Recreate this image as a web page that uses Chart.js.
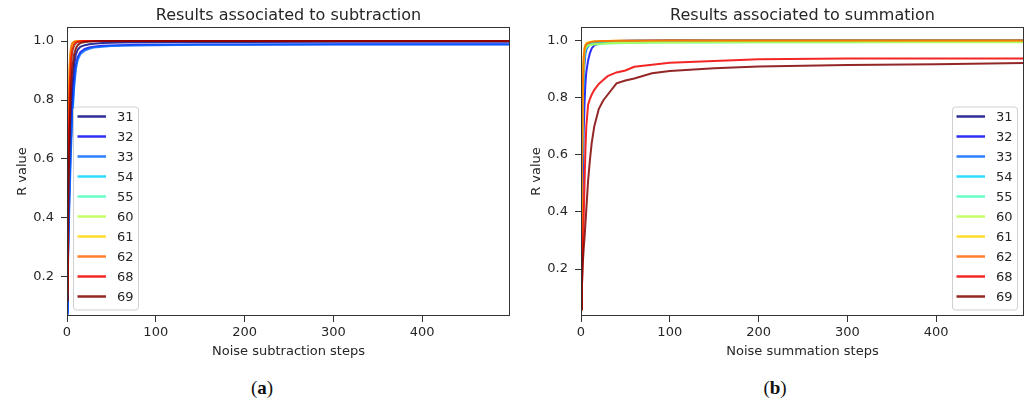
<!DOCTYPE html>
<html>
<head>
<meta charset="utf-8">
<script src="https://cdn.jsdelivr.net/npm/chart.js@4/dist/chart.umd.min.js"></script>
<style>
  html, body { margin: 0; padding: 0; background: #fff; }
  body { width: 1029px; height: 407px; position: relative; overflow: hidden; }
  .panel { position: absolute; top: 0; width: 515px; height: 370px; }
  .caption {
    position: absolute; top: 377px; transform: translateX(-50%);
    font-family: 'Liberation Serif', 'DejaVu Serif', serif; font-size: 19px; color: #111;
  }
</style>
</head>
<body>
<div class="panel" style="left:0"><canvas id="subChart"></canvas></div>
<div class="panel" style="left:514px"><canvas id="sumChart"></canvas></div>
<div class="caption" style="left:262px">(<b>a</b>)</div>
<div class="caption" style="left:775px">(<b>b</b>)</div>

<script>
// series names (legend order) and their colours
const seriesNames = ['31', '32', '33', '54', '55', '60', '61', '62', '68', '69'];
const seriesColors = [
  'rgba(0,0,128,0.82)', 'rgba(0,0,241,0.82)', 'rgba(0,99,255,0.82)', 'rgba(0,212,255,0.82)',
  'rgba(71,255,184,0.82)', 'rgba(184,255,71,0.82)', 'rgba(255,212,0,0.82)', 'rgba(255,99,0,0.82)',
  'rgba(241,0,0,0.85)', 'rgba(128,0,0,0.85)'
];

// noise steps where values were read
const steps = [0, 1, 2, 3, 4, 5, 6, 8, 10, 12, 15, 20, 25, 30, 40, 50, 60, 80, 100, 150, 200, 300, 400, 499];
const xTicks = [0, 100, 200, 300, 400];
const yTicks = [0.2, 0.4, 0.6, 0.8, 1.0];

// (a) subtraction
const sub31 = [0.10, 0.26, 0.42, 0.56, 0.68, 0.77, 0.84, 0.92, 0.955, 0.970, 0.980, 0.986, 0.989, 0.991, 0.993, 0.994, 0.995, 0.996, 0.996, 0.997, 0.997, 0.998, 0.998, 0.998];
const sub32 = [0.08, 0.25, 0.40, 0.52, 0.62, 0.70, 0.77, 0.86, 0.92, 0.945, 0.962, 0.973, 0.978, 0.981, 0.984, 0.985, 0.986, 0.987, 0.987, 0.988, 0.988, 0.989, 0.989, 0.989];
const sub33 = [0.07, 0.22, 0.36, 0.48, 0.58, 0.67, 0.74, 0.84, 0.905, 0.935, 0.955, 0.968, 0.974, 0.978, 0.981, 0.983, 0.984, 0.985, 0.986, 0.987, 0.987, 0.988, 0.988, 0.988];
const sub54 = [0.14, 0.42, 0.65, 0.80, 0.89, 0.94, 0.965, 0.985, 0.993, 0.996, 0.998, 0.999, 0.999, 1.000, 1.000, 1.000, 1.000, 1.000, 1.000, 1.000, 1.000, 1.000, 1.000, 1.000];
const sub55 = [0.15, 0.45, 0.68, 0.83, 0.91, 0.95, 0.972, 0.988, 0.995, 0.997, 0.998, 0.999, 0.999, 1.000, 1.000, 1.000, 1.000, 1.000, 1.000, 1.000, 1.000, 1.000, 1.000, 1.000];
const sub60 = [0.16, 0.48, 0.72, 0.86, 0.93, 0.96, 0.978, 0.991, 0.996, 0.998, 0.999, 0.999, 1.000, 1.000, 1.000, 1.000, 1.000, 1.000, 1.000, 1.000, 1.000, 1.000, 1.000, 1.000];
const sub61 = [0.20, 0.55, 0.79, 0.91, 0.96, 0.982, 0.991, 0.997, 0.999, 1.000, 1.000, 1.000, 1.000, 1.000, 1.000, 1.000, 1.000, 1.000, 1.000, 1.000, 1.000, 1.000, 1.000, 1.000];
const sub62 = [0.20, 0.56, 0.80, 0.92, 0.965, 0.985, 0.993, 0.998, 0.999, 1.000, 1.000, 1.000, 1.000, 1.000, 1.000, 1.000, 1.000, 1.000, 1.000, 1.000, 1.000, 1.000, 1.000, 1.000];
const sub68 = [0.15, 0.44, 0.66, 0.81, 0.90, 0.945, 0.968, 0.987, 0.994, 0.997, 0.999, 1.000, 1.000, 1.000, 1.000, 1.000, 1.000, 1.000, 1.000, 1.000, 1.000, 1.000, 1.000, 1.000];
const sub69 = [0.12, 0.34, 0.54, 0.69, 0.80, 0.87, 0.91, 0.955, 0.975, 0.986, 0.993, 0.997, 0.998, 0.999, 1.000, 1.000, 1.000, 1.000, 1.000, 1.000, 1.000, 1.000, 1.000, 1.000];

// (b) summation
const sum31 = [0.07, 0.45, 0.75, 0.89, 0.945, 0.967, 0.978, 0.987, 0.991, 0.993, 0.995, 0.996, 0.997, 0.998, 0.998, 0.999, 0.999, 0.999, 1.000, 1.000, 1.000, 1.000, 1.000, 1.000];
const sum32 = [0.07, 0.30, 0.52, 0.68, 0.78, 0.85, 0.89, 0.93, 0.955, 0.972, 0.983, 0.990, 0.993, 0.995, 0.997, 0.998, 0.999, 0.999, 1.000, 1.000, 1.000, 1.000, 1.000, 1.000];
const sum33 = [0.07, 0.42, 0.70, 0.85, 0.92, 0.952, 0.967, 0.979, 0.985, 0.989, 0.992, 0.994, 0.995, 0.996, 0.997, 0.998, 0.998, 0.999, 0.999, 1.000, 1.000, 1.000, 1.000, 1.000];
const sum54 = [0.07, 0.48, 0.78, 0.91, 0.955, 0.972, 0.980, 0.986, 0.989, 0.991, 0.993, 0.994, 0.995, 0.996, 0.997, 0.997, 0.998, 0.998, 0.998, 0.999, 0.999, 0.999, 0.999, 0.999];
const sum55 = [0.07, 0.50, 0.80, 0.92, 0.958, 0.970, 0.976, 0.981, 0.983, 0.985, 0.986, 0.987, 0.988, 0.989, 0.990, 0.991, 0.991, 0.992, 0.993, 0.993, 0.994, 0.994, 0.995, 0.995];
const sum60 = [0.07, 0.52, 0.81, 0.925, 0.96, 0.972, 0.978, 0.983, 0.985, 0.986, 0.987, 0.988, 0.989, 0.990, 0.991, 0.992, 0.992, 0.993, 0.993, 0.994, 0.994, 0.994, 0.994, 0.994];
const sum61 = [0.06, 0.55, 0.85, 0.95, 0.975, 0.985, 0.990, 0.993, 0.995, 0.996, 0.997, 0.998, 0.998, 0.998, 0.999, 0.999, 0.999, 0.999, 1.000, 1.000, 1.000, 1.000, 1.000, 1.000];
const sum62 = [0.06, 0.52, 0.83, 0.935, 0.97, 0.982, 0.987, 0.991, 0.993, 0.995, 0.996, 0.997, 0.998, 0.998, 0.999, 0.999, 0.999, 1.000, 1.000, 1.000, 1.000, 1.000, 1.000, 1.000];
const sum68 = [0.06, 0.13, 0.27, 0.38, 0.50, 0.62, 0.70, 0.775, 0.795, 0.81, 0.827, 0.848, 0.862, 0.875, 0.888, 0.895, 0.908, 0.915, 0.922, 0.928, 0.934, 0.937, 0.937, 0.937];
const sum69 = [0.06, 0.14, 0.22, 0.27, 0.31, 0.36, 0.41, 0.51, 0.58, 0.64, 0.70, 0.76, 0.79, 0.81, 0.85, 0.86, 0.867, 0.885, 0.893, 0.903, 0.909, 0.914, 0.917, 0.921];

const subSeries = [sub31, sub32, sub33, sub54, sub55, sub60, sub61, sub62, sub68, sub69];
const sumSeries = [sum31, sum32, sum33, sum54, sum55, sum60, sum61, sum62, sum68, sum69];

const FONT = "'DejaVu Sans', 'Noto Sans', sans-serif";
const INK = '#262626';

// box around the axes, like matplotlib spines
const framePlugin = {
  id: 'frame',
  afterDatasetsDraw(chart) {
    const a = chart.chartArea, ctx = chart.ctx;
    ctx.save();
    ctx.strokeStyle = '#333';
    ctx.lineWidth = 1;
    ctx.strokeRect(Math.round(a.left) + 0.5, Math.round(a.top) + 0.5,
      Math.round(a.right - a.left) - 1, Math.round(a.bottom - a.top) - 1);
    ctx.restore();
  }
};

// legend drawn inside the plot area
const insideLegend = {
  id: 'insideLegend',
  afterDraw(chart, args, opts) {
    const a = chart.chartArea, ctx = chart.ctx;
    const w = 65, h = 203, rowH = 20;
    const x0 = opts.side === 'right' ? a.right - 7 - w : a.left + 6;
    const y0 = a.bottom - 6.5 - h;
    ctx.save();
    ctx.beginPath();
    ctx.roundRect(x0 + 0.5, y0 + 0.5, w, h, 3);
    ctx.fillStyle = 'rgba(255,255,255,0.8)';
    ctx.fill();
    ctx.strokeStyle = '#d0d0d0';
    ctx.lineWidth = 1;
    ctx.stroke();
    ctx.font = '13px ' + FONT;
    ctx.textBaseline = 'middle';
    ctx.fillStyle = INK;
    chart.data.datasets.forEach((ds, i) => {
      const y = y0 + 10 + i * rowH;
      ctx.beginPath();
      ctx.moveTo(x0 + 4.5, y);
      ctx.lineTo(x0 + 33, y);
      ctx.strokeStyle = ds.borderColor;
      ctx.lineWidth = 2.5;
      ctx.stroke();
      ctx.fillText(ds.label, x0 + 44, y + 1);
    });
    ctx.restore();
  }
};

function makeChart(id, title, xLabel, series, yMin, yMax, side) {
  const datasets = series.map((vals, i) => ({
    label: seriesNames[i],
    data: steps.map((s, j) => ({ x: s, y: vals[j] })),
    borderColor: seriesColors[i],
    borderWidth: 2,
    pointRadius: 0,
    tension: 0,
    order: -i
  }));
  return new Chart(document.getElementById(id), {
    type: 'line',
    data: { datasets },
    options: {
      responsive: true,
      maintainAspectRatio: false,
      animation: false,
      layout: { padding: { left: 0, right: 5, top: 0, bottom: 0 } },
      plugins: {
        legend: { display: false },
        tooltip: { enabled: false },
        title: {
          display: true, text: title, color: INK, fullSize: false,
          font: { family: FONT, size: 16, weight: 'normal', lineHeight: 1.2 },
          padding: { top: 6, bottom: 1.8 }
        },
        insideLegend: { side }
      },
      scales: {
        x: {
          type: 'linear', min: 0, max: 499,
          afterBuildTicks: s => { s.ticks = xTicks.map(v => ({ value: v })); },
          afterFit: s => { s.height = 54; },
          grid: { drawOnChartArea: false, drawTicks: true, tickLength: 6, tickColor: '#333' },
          border: { display: false },
          ticks: { color: INK, font: { family: FONT, size: 13 }, padding: 3, maxRotation: 0 },
          title: { display: true, text: xLabel, color: INK, font: { family: FONT, size: 13 }, padding: { top: 0, bottom: 11 } }
        },
        y: {
          min: yMin, max: yMax,
          afterBuildTicks: s => { s.ticks = yTicks.map(v => ({ value: v })); },
          afterFit: s => { s.width = 67; },
          grid: { drawOnChartArea: false, drawTicks: true, tickLength: 6, tickColor: '#333' },
          border: { display: false },
          ticks: { color: INK, font: { family: FONT, size: 13 }, padding: 7, callback: v => v.toFixed(1) },
          title: { display: true, text: 'R value', color: INK, font: { family: FONT, size: 13 }, padding: { top: 15, bottom: 0 } }
        }
      }
    },
    plugins: [framePlugin, insideLegend]
  });
}

makeChart('subChart', 'Results associated to subtraction', 'Noise subtraction steps', subSeries, 0.0675, 1.0476, 'left');
makeChart('sumChart', 'Results associated to summation', 'Noise summation steps', sumSeries, 0.036, 1.047, 'right');
</script>
</body>
</html>
